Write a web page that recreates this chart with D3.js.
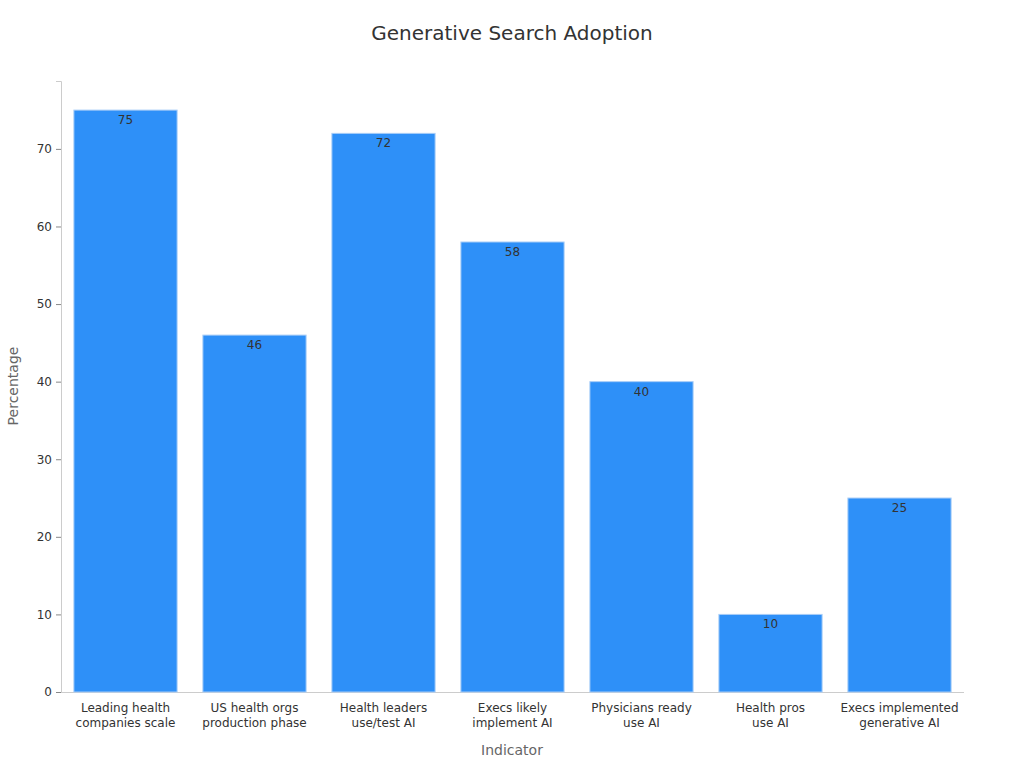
<!DOCTYPE html>
<html><head><meta charset="utf-8">
<script src="https://cdn.jsdelivr.net/npm/d3@7"></script>
<style>body{margin:0;background:#fff;font-family:"DejaVu Sans",sans-serif}</style>
</head><body><svg id="c" width="1024" height="768"></svg>
<script>
const categories = [["Leading health","companies scale"],["US health orgs","production phase"],["Health leaders","use/test AI"],["Execs likely","implement AI"],["Physicians ready","use AI"],["Health pros","use AI"],["Execs implemented","generative AI"]];
const values = [75,46,72,58,40,10,25];
const yTicks = [0,10,20,30,40,50,60,70];

const svg = d3.select("#c");
const m = {l:61, r:964, t:81, b:692};
const x = d3.scaleBand().domain(d3.range(values.length)).range([m.l,m.r]).paddingInner(0.2).paddingOuter(0.1);
const y = d3.scaleLinear().domain([0,78.75]).range([m.b,m.t]);

svg.append("text").attr("x",512).attr("y",40).attr("text-anchor","middle").attr("font-size",20).attr("fill","#333").text("Generative Search Adoption");

const ya = svg.append("g").attr("transform",`translate(${m.l},0)`).call(d3.axisLeft(y).tickValues(yTicks).tickSize(5).tickPadding(4));
ya.select(".domain").attr("stroke","#ccc");
ya.selectAll(".tick line").attr("stroke","#888");
ya.selectAll("text").attr("font-size",12).attr("fill","#333").attr("font-family","DejaVu Sans");

svg.append("line").attr("x1",m.l).attr("x2",m.r).attr("y1",m.b+0.5).attr("y2",m.b+0.5).attr("stroke","#ccc");

svg.selectAll("rect.bar").data(values).join("rect").attr("class","bar")
 .attr("x",(d,i)=>x(i)).attr("width",x.bandwidth()).attr("y",d=>y(d)).attr("height",d=>m.b-y(d))
 .attr("fill","#2e90f8").attr("stroke","#a9cdf7").attr("stroke-width",1);

svg.selectAll("text.val").data(values).join("text").attr("class","val")
 .attr("x",(d,i)=>x(i)+x.bandwidth()/2).attr("y",d=>y(d)+14).attr("text-anchor","middle")
 .attr("font-size",12).attr("fill","#333").text(d=>d);

categories.forEach((c,i)=>{
  const t = svg.append("text").attr("x",x(i)+x.bandwidth()/2).attr("y",712).attr("text-anchor","middle").attr("font-size",12).attr("fill","#333");
  c.forEach((s,j)=>t.append("tspan").attr("x",x(i)+x.bandwidth()/2).attr("dy",j?15:0).text(s));
});

svg.append("text").attr("x",512).attr("y",755).attr("text-anchor","middle").attr("font-size",14).attr("fill","#666").text("Indicator");
svg.append("text").attr("transform","translate(18,386) rotate(-90)").attr("text-anchor","middle").attr("font-size",14).attr("fill","#666").text("Percentage");
</script></body></html>
